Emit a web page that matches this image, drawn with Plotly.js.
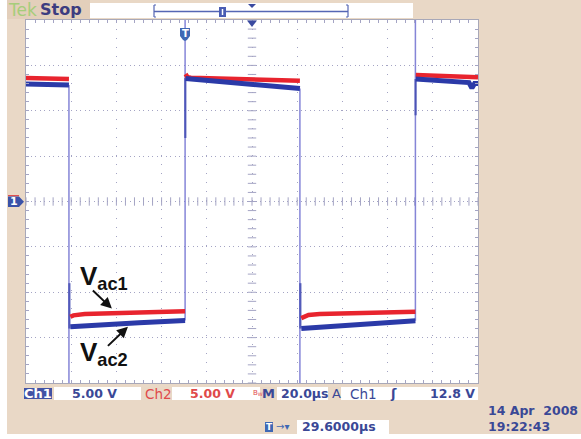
<!DOCTYPE html>
<html><head><meta charset="utf-8">
<script src="https://cdn.plot.ly/plotly-3.0.1.min.js"></script>
<style>html,body{margin:0;padding:0;background:#fff;}#chart{width:581px;height:439px;}</style>
</head><body><div id="chart"></div>
<script>
// Screen time in µs (0 = left edge, 20 µs/div), voltage in V (5 V/div)
const ch1Time  = [0, 19, null, 19.6, 30, 50, 70.4, null, 70.6, 90, 110, 121.2, null, 121.8, 140, 160, 172.3, null, 172.5, 185, 196, 197.3, 198.5, 200];
const ch1Volts = [12.95, 12.85, null, -13.8, -13.6, -13.35, -13.1, null, 13.55, 13.1, 12.7, 12.45, null, -14.0, -13.65, -13.35, -13.15, null, 13.5, 13.3, 13.1, 12.5, 13.0, 13.0];
const ch2Time  = [0, 19, null, 19.6, 21, 26, 50, 70.4, null, 70.6, 71.5, 73, 90, 121.2, null, 121.8, 125, 130, 150, 172.3, null, 172.5, 190, 200];
const ch2Volts = [13.6, 13.5, null, -12.7, -12.55, -12.4, -12.25, -12.1, null, 14.05, 13.7, 13.65, 13.5, 13.3, null, -12.85, -12.5, -12.4, -12.3, -12.15, null, 13.95, 13.8, 13.7];
// fast edges of channel 1 (over/undershoot beyond the screen)
const edgeTime  = [19, 19, null, 70.4, 70.4, null, 121.2, 121.2, null, 172.3, 172.3];
const edgeVolts = [12.85, -24, null, -13.1, 24, null, 12.45, -24, null, -13.15, 24];
const edgeDarkTime  = [19.2, 19.2, null, 70.5, 70.5, null, 121.4, 121.4, null, 172.4, 172.4];
const edgeDarkVolts = [-9, -14, null, 13.6, 7, null, -9, -14, null, 13.5, 9.5];

const P = x => (x - 26) / 452;   // pixel -> paper x
const Q = y => (383 - y) / 363;  // pixel -> paper y
const navy = '#3a4896', red = '#e04a4a', gridc = '#a4a4c4';
const FONT = 'DejaVu Sans';

// centre-cross tick marks
const crossX = [], crossY = [];
for (let t = 0; t <= 200; t += 4) { crossX.push(t); }
for (let v = -20; v <= 20; v += 1) { crossY.push(v); }

const traces = [
  {x: crossX, y: crossX.map(() => 0), mode: 'markers', marker: {symbol: 'line-ns', size: 6, line: {width: 1, color: gridc}}, hoverinfo: 'skip'},
  {x: crossY.map(() => 100), y: crossY, mode: 'markers', marker: {symbol: 'line-ew', size: 6, line: {width: 1, color: gridc}}, hoverinfo: 'skip'},
  {x: edgeTime, y: edgeVolts, mode: 'lines', line: {color: 'rgba(112,112,208,0.85)', width: 1.5}, connectgaps: false},
  {x: edgeDarkTime, y: edgeDarkVolts, mode: 'lines', line: {color: 'rgba(60,70,175,0.8)', width: 2.2}, connectgaps: false},
  {x: ch2Time, y: ch2Volts, mode: 'lines', line: {color: '#e8242e', width: 4.5}, connectgaps: false},
  {x: ch1Time, y: ch1Volts, mode: 'lines', line: {color: '#2b3aa8', width: 5}, connectgaps: false}
];

const ax = {
  showticklabels: false, zeroline: false, showline: true, linecolor: '#a8a8b8', linewidth: 1,
  mirror: 'allticks', ticks: 'inside', ticklen: 3, tickcolor: gridc, gridcolor: gridc, gridwidth: 1, fixedrange: true
};
const layout = {
  width: 581, height: 439,
  margin: {l: 26, r: 103, t: 20, b: 56, pad: 0},
  paper_bgcolor: '#e9d8c6', plot_bgcolor: '#ffffff',
  showlegend: false, hovermode: false,
  xaxis: Object.assign({}, ax, {range: [0, 200], tick0: 0, dtick: 20, griddash: '1px,8px',
    minor: {dtick: 4, ticks: 'inside', ticklen: 3, tickcolor: gridc, showgrid: false}}),
  yaxis: Object.assign({}, ax, {range: [-20, 20], tick0: 0, dtick: 5, griddash: '1px,3.5px',
    minor: {dtick: 1, ticks: 'inside', ticklen: 3, tickcolor: gridc, showgrid: false}}),
  shapes: [],
  annotations: []
};
const S = layout.shapes, A = layout.annotations;
function rect(x0, y0, x1, y1, fill) {
  S.push({type: 'rect', xref: 'paper', yref: 'paper', x0: P(x0), x1: P(x1), y0: Q(y1), y1: Q(y0), fillcolor: fill, line: {width: 0}, layer: 'above'});
}
function line(x0, y0, x1, y1, color, w) {
  S.push({type: 'line', xref: 'paper', yref: 'paper', x0: P(x0), x1: P(x1), y0: Q(y0), y1: Q(y1), line: {color: color, width: w}, layer: 'above'});
}
function path(pts, fill) {
  const d = 'M' + pts.map(p => P(p[0]) + ',' + Q(p[1])).join(' L') + ' Z';
  S.push({type: 'path', xref: 'paper', yref: 'paper', path: d, fillcolor: fill, line: {width: 0}, layer: 'above'});
}
function txt(x, y, s, color, size, anchor, weight) {
  A.push({xref: 'paper', yref: 'paper', x: P(x), y: Q(y), text: s, showarrow: false, xanchor: anchor || 'left', yanchor: 'middle',
    font: {family: FONT, size: size || 13, color: color, weight: weight || 'normal'}});
}
// white margins of the photo
rect(-10, 434, 600, 450, '#ffffff');
rect(-10, -10, 7, 450, '#ffffff');
// top bar
rect(7, 0, 90, 19, '#e3cfbb');
rect(90, 3, 413, 18, '#ffffff');
line(154, 11.5, 348, 11.5, '#5566b4', 1.5);
line(154, 5, 154, 17, '#5566b4', 1.2); line(154, 5, 156, 5, '#5566b4', 1.2); line(154, 17, 156, 17, '#5566b4', 1.2);
line(348, 5, 348, 17, '#5566b4', 1.2); line(346, 5, 348, 5, '#5566b4', 1.2); line(346, 17, 348, 17, '#5566b4', 1.2);
rect(219, 7, 226, 17, '#4a5db4'); line(222.5, 9, 222.5, 15, '#ffffff', 1.5);
path([[248, 4], [256, 4], [252, 8]], '#3a4aa0');
// screen markers
path([[247, 20.5], [257, 20.5], [252, 27]], '#3a4aa0');
path([[180, 28], [190, 28], [190, 36], [187, 40], [185, 41], [183, 40], [180, 36]], '#3f68b4');
txt(185, 33.5, 'T', '#ffffff', 10, 'center', 'bold');
line(8, 195.7, 19, 195.7, '#e04040', 1.2);
path([[8, 196.5], [19, 196.5], [24, 201.8], [19, 207], [8, 207]], '#3a52a8');
txt(14, 202, '1', '#ffffff', 11, 'center', 'bold');
// status row
rect(24, 388, 52, 399, '#4252a4');
rect(54, 387, 141, 400, '#ffffff');
rect(172, 387, 260, 400, '#ffffff');
rect(277, 387, 328, 400, '#ffffff');
rect(341, 387, 478, 400, '#ffffff');
rect(297, 420, 389, 434, '#ffffff');
path([[265, 422], [273, 422], [273, 432], [265, 432]], '#3f68b4');
txt(6, 10, 'Tek', '#a6cd7a', 17);
txt(38, 10, 'Stop', '#3c3c80', 16, 'left', 'bold');
txt(38, 393.5, 'Ch1', '#ffffff', 13, 'center', 'bold');
txt(70, 393.5, '5.00 V', navy, 12.5, 'left', 'bold');
txt(143, 393.5, 'Ch2', red, 13.5);
txt(188, 393.5, '5.00 V', red, 12.5, 'left', 'bold');
txt(251, 392.5, 'B<sub>W</sub>', red, 7);
txt(260, 393.5, 'M', navy, 13, 'left', 'bold');
txt(279, 393.5, '20.0µs', navy, 12.5, 'left', 'bold');
txt(330, 393.5, 'A', navy, 13);
txt(348, 393.5, 'Ch1', navy, 13.5);
txt(388, 393.5, 'ʃ', navy, 13, 'left', 'bold');
txt(477, 393.5, '12.8 V', navy, 12.5, 'right', 'bold');
txt(269, 427, 'T', '#ffffff', 9, 'center', 'bold');
txt(274, 427, '→▾', '#3f68b4', 10);
txt(300, 427, '29.6000µs', navy, 12.5, 'left', 'bold');
txt(486, 411, '14 Apr  2008', navy, 12.5, 'left', 'bold');
txt(486, 426, '19:22:43', navy, 12.5, 'left', 'bold');
// V_ac labels with arrows
A.push({x: 23.2, y: -8.4, xref: 'x', yref: 'y', text: 'V<sub>ac1</sub>', showarrow: false, xanchor: 'left', yanchor: 'middle',
  font: {family: 'Liberation Sans', size: 26, color: '#111', weight: 'bold'}});
A.push({x: 23.2, y: -16.7, xref: 'x', yref: 'y', text: 'V<sub>ac2</sub>', showarrow: false, xanchor: 'left', yanchor: 'middle',
  font: {family: 'Liberation Sans', size: 26, color: '#111', weight: 'bold'}});
A.push({x: 38.0, y: -11.8, xref: 'x', yref: 'y', text: ' ', showarrow: true, ax: -22, ay: -21, arrowhead: 2, arrowsize: 1.1, arrowwidth: 2, arrowcolor: '#111'});
A.push({x: 45.1, y: -13.8, xref: 'x', yref: 'y', text: ' ', showarrow: true, ax: -23, ay: 22, arrowhead: 2, arrowsize: 1.1, arrowwidth: 2, arrowcolor: '#111'});

Plotly.newPlot('chart', traces, layout, {staticPlot: true, displayModeBar: false});
</script></body></html>
